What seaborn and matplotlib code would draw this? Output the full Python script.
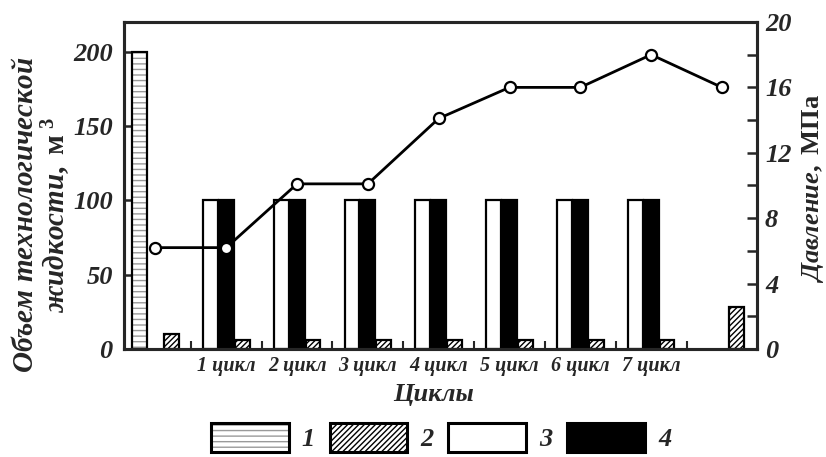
import matplotlib
matplotlib.use("Agg")
import matplotlib.pyplot as plt
import seaborn as sns
import pandas as pd
import numpy as np
from matplotlib.patches import Patch

# ---- data ----
cycle_labels = ["1 цикл", "2 цикл", "3 цикл", "4 цикл", "5 цикл", "6 цикл", "7 цикл"]
vol_initial_1 = [200]                      # series 1 (before cycles)
vol_2 = [10, 6, 6, 6, 6, 6, 6, 6, 28]       # series 2: initial, 7 cycles, final
vol_3 = [100, 100, 100, 100, 100, 100, 100] # series 3 per cycle
vol_4 = [100, 100, 100, 100, 100, 100, 100] # series 4 per cycle
pressure = [6.2, 6.2, 10.1, 10.1, 14.1, 16, 16, 18, 16]  # MPa: initial, 7 cycles, final
legend_labels = ["1", "2", "3", "4"]

sns.set_theme(style="ticks")
plt.rcParams["font.family"] = ["Liberation Serif", "DejaVu Serif"]
plt.rcParams["font.weight"] = "bold"
plt.rcParams["font.style"] = "italic"
plt.rcParams["axes.labelweight"] = "bold"
plt.rcParams["mathtext.fontset"] = "custom"
plt.rcParams["mathtext.it"] = "Liberation Serif:style=italic:weight=bold"
plt.rcParams["mathtext.rm"] = "Liberation Serif:style=normal:weight=bold"
plt.rcParams["mathtext.bf"] = "Liberation Serif:style=normal:weight=bold"
plt.rcParams["hatch.linewidth"] = 1.0
plt.rcParams["axes.linewidth"] = 2.2

fig = plt.figure(figsize=(8.26, 4.57), dpi=100)
ax = fig.add_axes([0.150, 0.2363, 0.766, 0.7156])

n = len(cycle_labels)
groups = np.arange(0, n + 2)          # 0 = initial, 1..7 cycles, 8 = final
cyc = np.arange(1, n + 1)
w = 0.21
off = 0.225
lw = 1.6

# series 1 (initial): gray dashed horizontal hatch
ax.bar([0 - off], vol_initial_1, width=w, facecolor="white", edgecolor="#9a9a9a",
       hatch="---", linewidth=0, zorder=2)
ax.bar([0 - off], vol_initial_1, width=w, facecolor="none", edgecolor="black",
       linewidth=lw, zorder=3)
# series 3 and 4
ax.bar(cyc - off, vol_3, width=w, facecolor="white", edgecolor="black", linewidth=lw, zorder=2)
ax.bar(cyc, vol_4, width=w, facecolor="black", edgecolor="black", linewidth=lw, zorder=2)
# series 2
x2 = np.array(list(groups[:-1] + off) + [groups[-1] + 0.2])
ax.bar(x2, vol_2, width=w, facecolor="white", edgecolor="black", hatch="//////",
       linewidth=lw, zorder=2)

ax.set_xlim(-0.446, 8.49)
ax.set_ylim(0, 220)
ax.set_yticks([0, 50, 100, 150, 200])
ax.set_xticks(np.arange(0.5, n + 1, 1.0))
ax.set_xticklabels([])
ax.set_xticks(cyc, minor=True)
ax.set_xticklabels(cycle_labels, minor=True, fontsize=14.5)
ax.tick_params(axis="x", which="major", direction="in", length=6, width=1.5)
ax.tick_params(axis="x", which="minor", length=0, pad=5)
ax.tick_params(axis="y", direction="in", length=7, width=1.8, labelsize=19, pad=8)
for t in ax.get_yticklabels():
    t.set_fontweight("bold"); t.set_fontstyle("italic")

ax.set_xlabel("Циклы", fontsize=19, fontweight="bold")
ax.xaxis.set_label_coords(0.49, -0.105)
ax.set_ylabel("$\\mathit{Объем\\ технологической}$\n$\\mathit{жидкости,}\\ \\mathrm{м}^{\\ 3}$",
              fontsize=21, linespacing=1.0)
ax.yaxis.set_label_coords(-0.081, 0.41)

# pressure on twin axis
ax2 = ax.twinx()
df_p = pd.DataFrame({"x": groups, "p": pressure})
sns.lineplot(data=df_p, x="x", y="p", ax=ax2, color="black", linewidth=2.0,
             marker="o", markersize=8, markerfacecolor="white",
             markeredgecolor="black", markeredgewidth=1.6, zorder=5)
ax2.set_ylim(0, 20)
ax2.set_yticks([0, 4, 8, 12, 16, 20])
ax2.set_yticks(np.arange(2, 20, 4), minor=True)
ax2.tick_params(axis="y", which="major", direction="in", length=7, width=1.8, labelsize=19, pad=6)
ax2.tick_params(axis="y", which="minor", direction="in", length=7, width=1.8)
for t in ax2.get_yticklabels():
    t.set_fontweight("bold"); t.set_fontstyle("italic")
ax2.set_xlabel("")
ax2.set_ylabel("$\\mathit{Давление,}\\ \\mathrm{МПа}$", fontsize=19)
ax2.yaxis.set_label_coords(1.069, 0.49)
for s in ax2.spines.values():
    s.set_linewidth(2.2)

# legend
h1 = (Patch(facecolor="white", edgecolor="#9a9a9a", hatch="---", linewidth=0),
      Patch(facecolor="none", edgecolor="black", linewidth=2.2))
h2 = Patch(facecolor="white", edgecolor="black", hatch="//////", linewidth=2.2)
h3 = Patch(facecolor="white", edgecolor="black", linewidth=2.2)
h4 = Patch(facecolor="black", edgecolor="black", linewidth=2.2)
leg = fig.legend([h1, h2, h3, h4], legend_labels, loc="lower center",
                 bbox_to_anchor=(0.534, -0.042), ncol=4, frameon=False,
                 handlelength=2.95, handleheight=1.35, handletextpad=0.5,
                 columnspacing=0.55, prop={"size": 19, "weight": "bold", "style": "italic"})

fig.savefig("out.png", dpi=100)
